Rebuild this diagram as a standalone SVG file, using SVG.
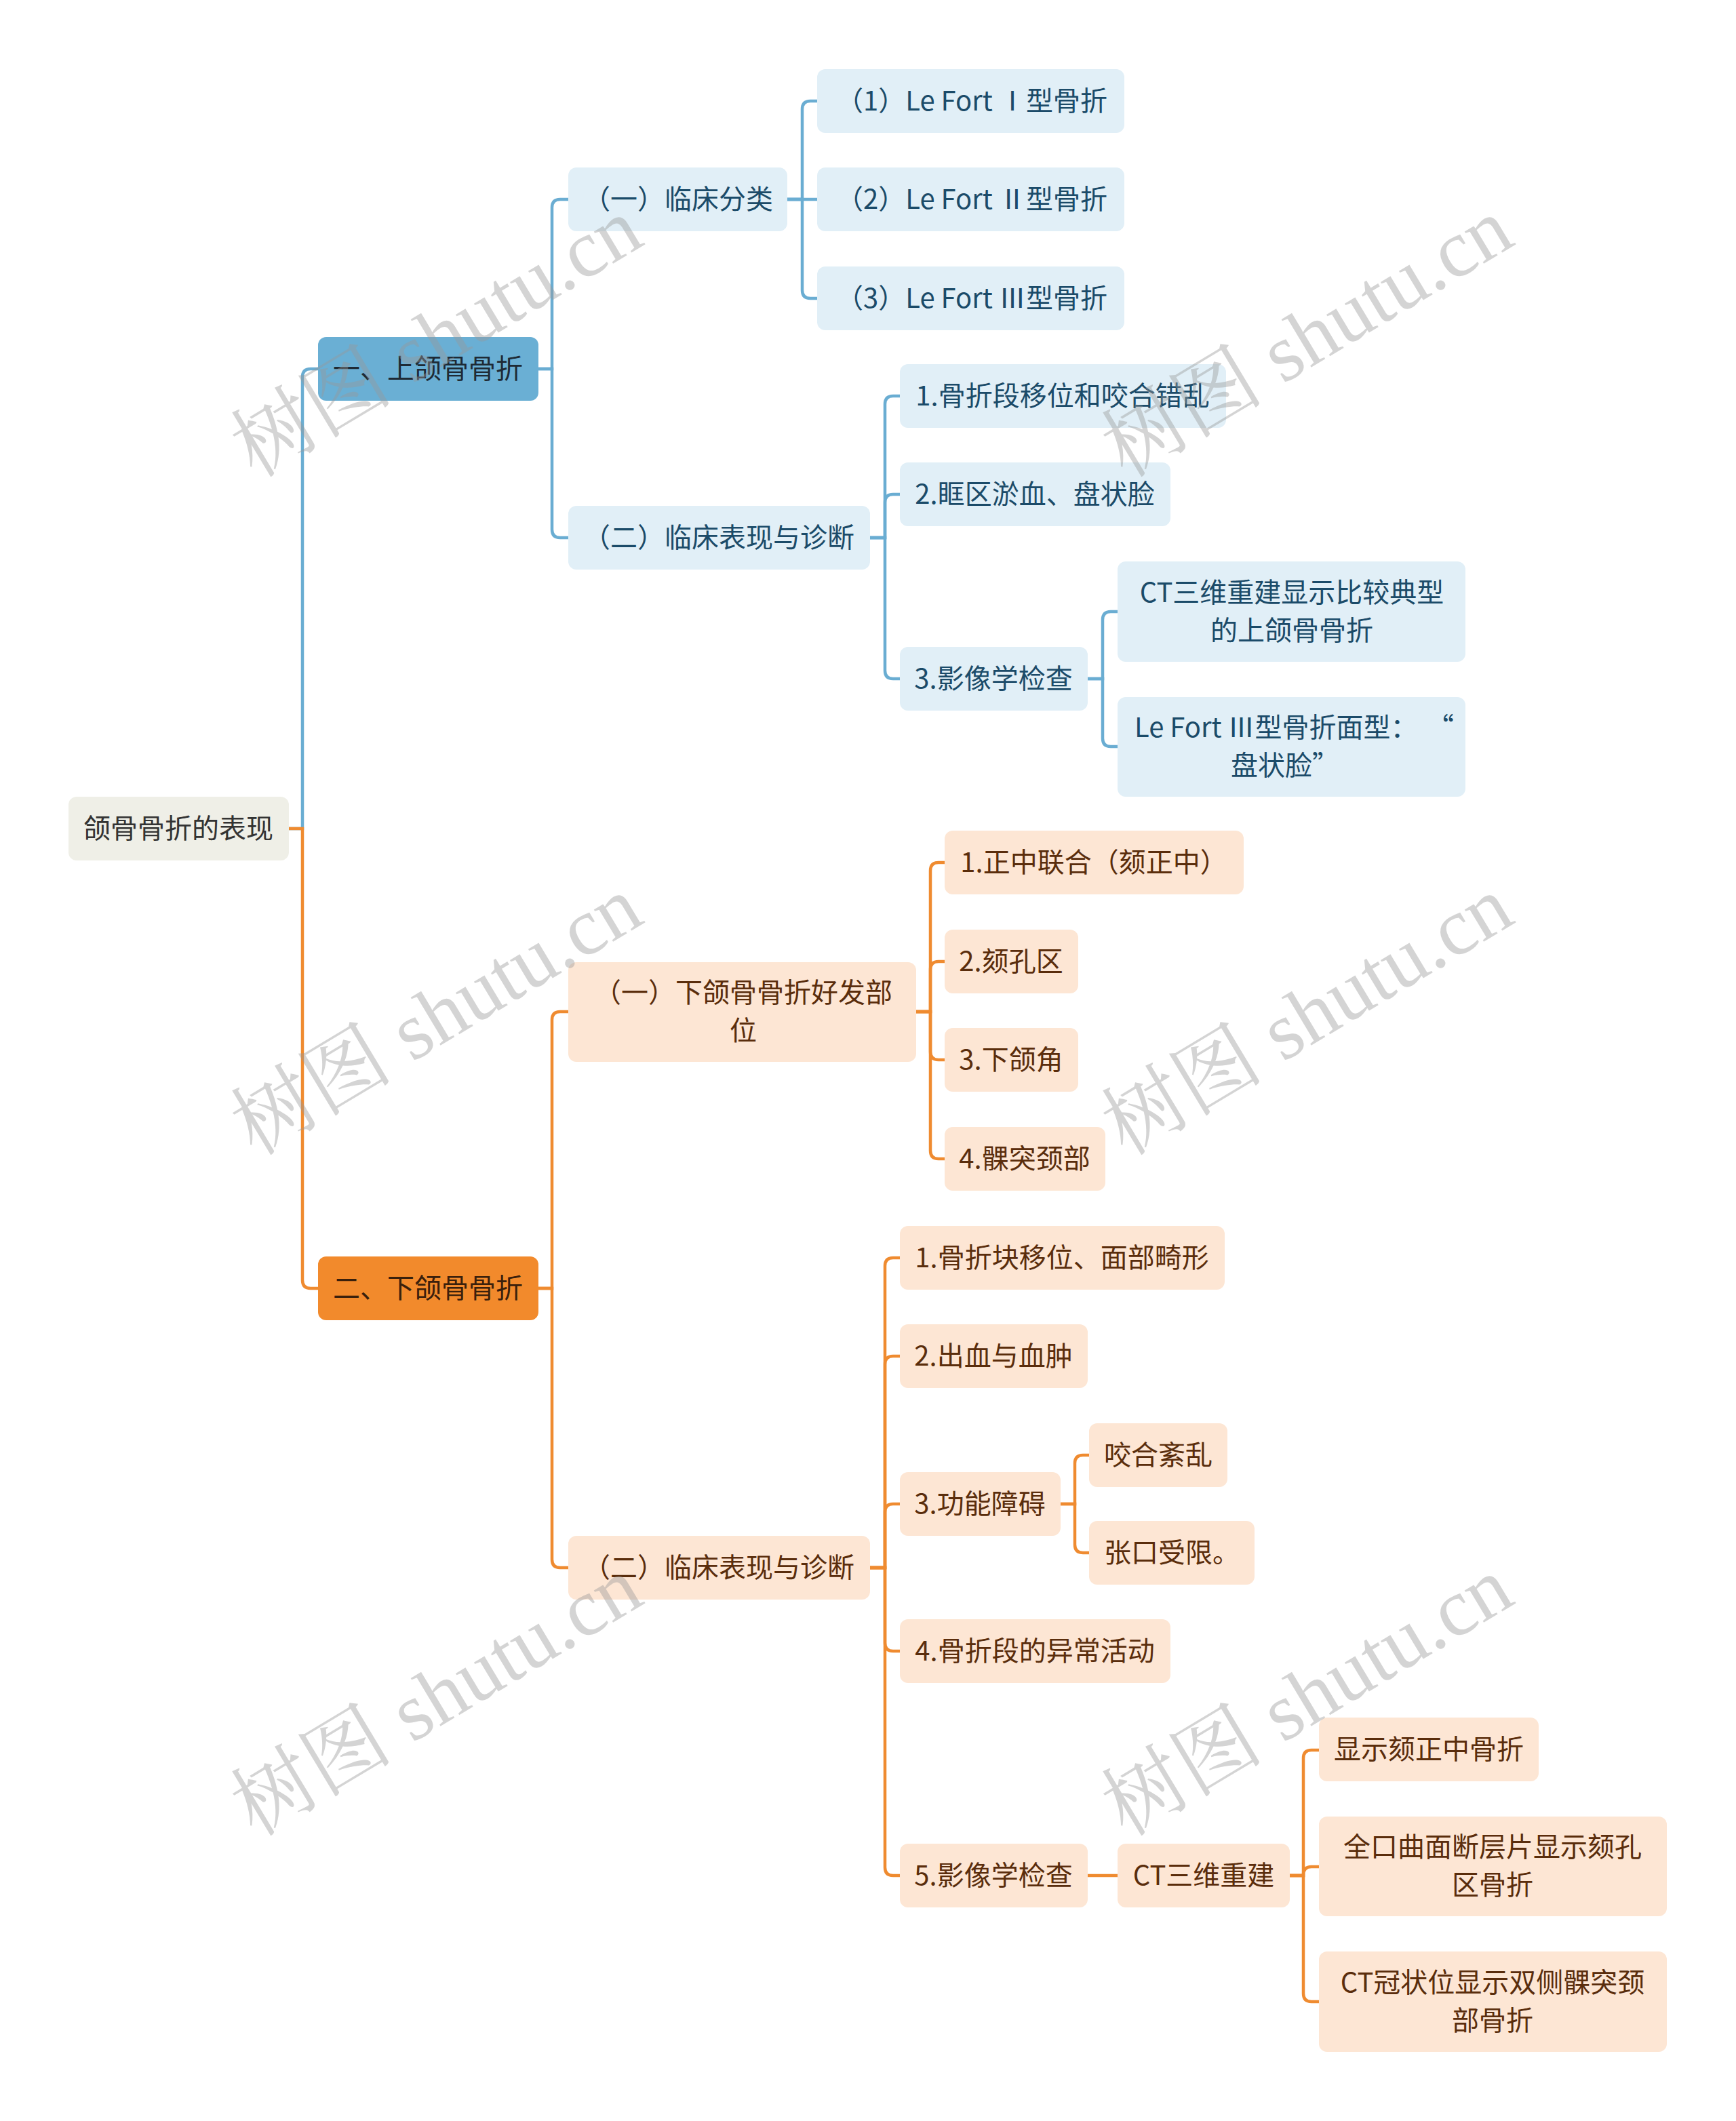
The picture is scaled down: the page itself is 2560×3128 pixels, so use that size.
<svg xmlns="http://www.w3.org/2000/svg" width="2560" height="3128" viewBox="0 0 2560 3128">
<style>
text{font-family:"Noto Sans CJK SC","Noto Sans",sans-serif;font-size:40px;text-anchor:middle}
.root rect{fill:#efefe7}
.root text{fill:#333333}
.b1 rect{fill:#6aafd4}
.b1 text{fill:#1e2a35}
.b2 rect{fill:#e1eff7}
.b2 text{fill:#1b4b69}
.o1 rect{fill:#f28a2c}
.o1 text{fill:#3a200c}
.o2 rect{fill:#fde6d4}
.o2 text{fill:#5a2d0c}
.cb{fill:none;stroke:#6aadd2;stroke-width:4.5;stroke-linecap:round}
.co{fill:none;stroke:#ef8b30;stroke-width:4.5;stroke-linecap:round}
.wm{font-family:"Liberation Serif","Noto Serif CJK SC","Noto Sans CJK SC",serif;font-size:120px;fill:#999999;fill-opacity:0.42;text-anchor:start}
</style>
<rect width="2560" height="3128" fill="#ffffff"/>
<g id="connectors">
<path class="cb" d="M426,1222 H446 V556 Q446,544 458,544 H469"/>
<path class="co" d="M426,1222 H446 V1888 Q446,1900 458,1900 H469"/>
<path class="cb" d="M794,544 H814 V306 Q814,294 826,294 H838"/>
<path class="cb" d="M794,544 H814 V781 Q814,793 826,793 H838"/>
<path class="cb" d="M1161,294 H1183 V161 Q1183,149 1195,149 H1205"/>
<path class="cb" d="M1161,294 H1205"/>
<path class="cb" d="M1161,294 H1183 V428 Q1183,440 1195,440 H1205"/>
<path class="cb" d="M1283,793 H1305 V596 Q1305,584 1317,584 H1327"/>
<path class="cb" d="M1283,793 H1305 V741 Q1305,729 1317,729 H1327"/>
<path class="cb" d="M1283,793 H1305 V989 Q1305,1001 1317,1001 H1327"/>
<path class="cb" d="M1604,1001 H1626 V914 Q1626,902 1638,902 H1648"/>
<path class="cb" d="M1604,1001 H1626 V1089 Q1626,1101 1638,1101 H1648"/>
<path class="co" d="M794,1900 H814 V1504 Q814,1492 826,1492 H838"/>
<path class="co" d="M794,1900 H814 V2300 Q814,2312 826,2312 H838"/>
<path class="co" d="M1351,1492 H1372 V1284 Q1372,1272 1384,1272 H1393"/>
<path class="co" d="M1351,1492 H1372 V1430 Q1372,1418 1384,1418 H1393"/>
<path class="co" d="M1351,1492 H1372 V1551 Q1372,1563 1384,1563 H1393"/>
<path class="co" d="M1351,1492 H1372 V1697 Q1372,1709 1384,1709 H1393"/>
<path class="co" d="M1283,2312 H1305 V1867 Q1305,1855 1317,1855 H1327"/>
<path class="co" d="M1283,2312 H1305 V2012 Q1305,2000 1317,2000 H1327"/>
<path class="co" d="M1283,2312 H1305 V2230 Q1305,2218 1317,2218 H1327"/>
<path class="co" d="M1283,2312 H1305 V2423 Q1305,2435 1317,2435 H1327"/>
<path class="co" d="M1283,2312 H1305 V2754 Q1305,2766 1317,2766 H1327"/>
<path class="co" d="M1564,2218 H1585 V2158 Q1585,2146 1597,2146 H1606"/>
<path class="co" d="M1564,2218 H1585 V2278 Q1585,2290 1597,2290 H1606"/>
<path class="co" d="M1604,2766 H1648"/>
<path class="co" d="M1902,2766 H1922 V2593 Q1922,2581 1934,2581 H1945"/>
<path class="co" d="M1902,2766 H1922 V2765 Q1922,2753 1934,2753 H1945"/>
<path class="co" d="M1902,2766 H1922 V2940 Q1922,2952 1934,2952 H1945"/>
</g>
<g id="root" class="root"><rect x="101" y="1175" width="325" height="94" rx="12"/><text x="263" y="1236">颌骨骨折的表现</text></g>
<g id="n1" class="b1"><rect x="469" y="497" width="325" height="94" rx="12"/><text x="631" y="558">一、上颌骨骨折</text></g>
<g id="n2" class="o1"><rect x="469" y="1853" width="325" height="94" rx="12"/><text x="631" y="1914">二、下颌骨骨折</text></g>
<g id="n1a" class="b2"><rect x="838" y="247" width="323" height="94" rx="12"/><text x="1000" y="308">（一）临床分类</text></g>
<g id="n1b" class="b2"><rect x="838" y="746" width="445" height="94" rx="12"/><text x="1060" y="807">（二）临床表现与诊断</text></g>
<g id="n1a1" class="b2"><rect x="1205" y="102" width="453" height="94" rx="12"/><text x="1433" y="163">（1）Le Fort Ⅰ型骨折</text></g>
<g id="n1a2" class="b2"><rect x="1205" y="247" width="453" height="94" rx="12"/><text x="1433" y="308">（2）Le Fort Ⅱ型骨折</text></g>
<g id="n1a3" class="b2"><rect x="1205" y="393" width="453" height="94" rx="12"/><text x="1433" y="454">（3）Le Fort Ⅲ型骨折</text></g>
<g id="n1b1" class="b2"><rect x="1327" y="537" width="481" height="94" rx="12"/><text x="1567" y="598">1.骨折段移位和咬合错乱</text></g>
<g id="n1b2" class="b2"><rect x="1327" y="682" width="399" height="94" rx="12"/><text x="1526" y="743">2.眶区淤血、盘状脸</text></g>
<g id="n1b3" class="b2"><rect x="1327" y="954" width="277" height="94" rx="12"/><text x="1465" y="1015">3.影像学检查</text></g>
<g id="n1b3a" class="b2"><rect x="1648" y="828" width="513" height="148" rx="12"/><text x="1905" y="888">CT三维重建显示比较典型<tspan x="1905" y="944">的上颌骨骨折</tspan></text></g>
<g id="n1b3b" class="b2"><rect x="1648" y="1028" width="513" height="147" rx="12"/><text><tspan x="1673" y="1087" style="text-anchor:start">Le Fort Ⅲ型骨折面型：</tspan><tspan x="2104" y="1087" style="text-anchor:start">“</tspan><tspan x="1895" y="1143">盘状脸”</tspan></text></g>
<g id="n2a" class="o2"><rect x="838" y="1419" width="513" height="147" rx="12"/><text x="1096" y="1478">（一）下颌骨骨折好发部<tspan x="1096" y="1534">位</tspan></text></g>
<g id="n2b" class="o2"><rect x="838" y="2265" width="445" height="94" rx="12"/><text x="1060" y="2326">（二）临床表现与诊断</text></g>
<g id="n2a1" class="o2"><rect x="1393" y="1225" width="441" height="94" rx="12"/><text x="1613" y="1286">1.正中联合（颏正中）</text></g>
<g id="n2a2" class="o2"><rect x="1393" y="1371" width="197" height="94" rx="12"/><text x="1491" y="1432">2.颏孔区</text></g>
<g id="n2a3" class="o2"><rect x="1393" y="1516" width="197" height="94" rx="12"/><text x="1491" y="1577">3.下颌角</text></g>
<g id="n2a4" class="o2"><rect x="1393" y="1662" width="237" height="94" rx="12"/><text x="1511" y="1723">4.髁突颈部</text></g>
<g id="n2b1" class="o2"><rect x="1327" y="1808" width="479" height="94" rx="12"/><text x="1566" y="1869">1.骨折块移位、面部畸形</text></g>
<g id="n2b2" class="o2"><rect x="1327" y="1953" width="277" height="94" rx="12"/><text x="1465" y="2014">2.出血与血肿</text></g>
<g id="n2b3" class="o2"><rect x="1327" y="2171" width="237" height="94" rx="12"/><text x="1445" y="2232">3.功能障碍</text></g>
<g id="n2b3a" class="o2"><rect x="1606" y="2099" width="204" height="94" rx="12"/><text x="1708" y="2160">咬合紊乱</text></g>
<g id="n2b3b" class="o2"><rect x="1606" y="2243" width="244" height="94" rx="12"/><text x="1728" y="2304">张口受限。</text></g>
<g id="n2b4" class="o2"><rect x="1327" y="2388" width="399" height="94" rx="12"/><text x="1526" y="2449">4.骨折段的异常活动</text></g>
<g id="n2b5" class="o2"><rect x="1327" y="2719" width="277" height="94" rx="12"/><text x="1465" y="2780">5.影像学检查</text></g>
<g id="n2b5a" class="o2"><rect x="1648" y="2719" width="254" height="94" rx="12"/><text x="1775" y="2780">CT三维重建</text></g>
<g id="n2b5a1" class="o2"><rect x="1945" y="2533" width="324" height="94" rx="12"/><text x="2107" y="2594">显示颏正中骨折</text></g>
<g id="n2b5a2" class="o2"><rect x="1945" y="2679" width="513" height="147" rx="12"/><text x="2201" y="2738">全口曲面断层片显示颏孔<tspan x="2201" y="2794">区骨折</tspan></text></g>
<g id="n2b5a3" class="o2"><rect x="1945" y="2878" width="513" height="148" rx="12"/><text x="2201" y="2938">CT冠状位显示双侧髁突颈<tspan x="2201" y="2994">部骨折</tspan></text></g>
<g id="watermarks">
<text class="wm" transform="translate(376,706) rotate(-31)">树图 shutu.cn</text>
<text class="wm" transform="translate(1660,706) rotate(-31)">树图 shutu.cn</text>
<text class="wm" transform="translate(376,1706) rotate(-31)">树图 shutu.cn</text>
<text class="wm" transform="translate(1660,1706) rotate(-31)">树图 shutu.cn</text>
<text class="wm" transform="translate(376,2710) rotate(-31)">树图 shutu.cn</text>
<text class="wm" transform="translate(1660,2710) rotate(-31)">树图 shutu.cn</text>
</g>
</svg>
